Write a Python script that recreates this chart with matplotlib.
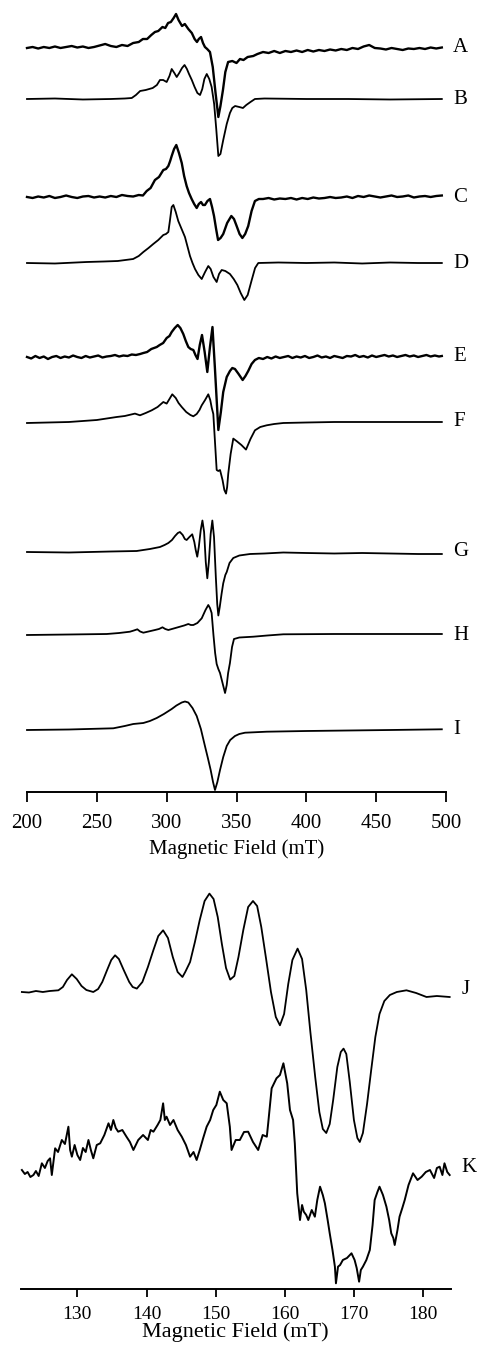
import numpy as np
import matplotlib
matplotlib.use("Agg")
import matplotlib.pyplot as plt

plt.rcParams['font.family'] = ['Liberation Serif', 'DejaVu Serif']

# ---- top panel: field (mT), signal (arbitrary units) ----
A = [(200,0),(204,1),(208,-0.5),(212,1),(216,0),(220,1.5),(224,0),(228,1),(232,2),(236,0.5),(240,1.5),(244,0),
     (248,1),(252,2.5),(256,4),(260,2),(264,1),(268,3),(272,2),(276,5),(280,6),(283,9),(286,9),(289,13),(291.6,16),
     (294,17),(297,21),(299,20),(301,25),(303,26),(305,30),(306.7,34),(308.5,28),(311,22),(313,24),(315.5,19),(318,15),
     (320,9),(321.7,6),(323,9),(324.6,11),(326,5),(327.4,1),(329,-1),(331,-4),(333,-19),(335,-45),(337,-69),(338.5,-58),
     (340.3,-42),(342,-24),(344,-14),(347,-13),(350,-15),(352.5,-11),(355,-12),(358,-9),(362,-8),(365,-6),(369,-4),
     (373,-5),(377,-3),(381,-5),(385,-3),(389,-4),(393,-2.5),(397,-4),(401,-2),(405,-3.5),(409,-2),(413,-3),(417,-1.5),
     (421,-2.5),(425,-1),(429,-2),(433,0),(437,-1),(441,1.5),(445,3),(449,0),(453,-0.5),(457,-1.5),(461,0),(465,-1),
     (469,-2),(473,-0.5),(477,-1),(481,0),(485,-1),(489,0.5),(493,-0.5),(497,0.5)]

B = [(200,0),(220,0.5),(240,-0.5),(260,0),(270,0.5),(275,1),(278,4),(281,8),(285,9),(290,11),(293,14),(295.2,19),
     (297.5,19),(300,17),(302,23),(303.6,30),(305.5,26),(307.2,22),(309,26),(311,31),(312.8,34),(314.5,30),(316,25),
     (318,19),(320,12),(322,6),(323.9,4),(325.5,10),(327,20),(328.7,25),(330.5,20),(332.2,12),(334,-5),(335.5,-30),
     (337,-57),(338.5,-55),(340.5,-41),(343,-25),(345.3,-14),(347,-9),(349,-7),(352,-8),(354.6,-9),(357,-6),(360,-3),
     (363.2,0),(370,0.5),(400,0),(430,0),(460,-0.5),(497,0)]

C = [(200,0),(204,-1),(208,0.5),(212,-0.5),(216,1),(220,-1),(224,0),(228,1.5),(232,0),(236,-1),(240,0.5),(244,1),
     (248,-0.5),(252,0.5),(256,-0.5),(260,1),(264,0),(268,2),(272,1),(276,0.5),(280,2),(283,1.5),(285.7,6),(288.5,9),
     (291.6,17),(294.5,20),(297.6,27),(299.5,28),(301.2,31),(302.5,36),(303.6,41),(305.3,48),(306.9,52),(308.8,44),
     (310.8,34),(312.5,21),(314.3,11),(316,4),(317.9,-2),(319.7,-7),(321.5,-11),(323,-7),(324.6,-5),(326,-8),(327.4,-8),
     (329.2,-4),(331,-2),(332.5,-10),(333.9,-19),(335.4,-32),(336.8,-43),(338.6,-41),(340.5,-37),(343.3,-26),(346.3,-19),
     (348.2,-22),(350.1,-29),(352.2,-37),(354.2,-41),(356.2,-37),(358.4,-29),(360.8,-14),(363.2,-4),(366,-2),(369,-2),
     (373,-1),(377,-2.5),(381,-1.5),(385,-2),(389,-1),(393,-2.5),(397,-1),(401,-2),(405,-0.5),(409,-1.5),(413,-1),
     (417,0),(421,-1),(425,-0.5),(429,0.5),(433,-1),(437,1),(441,0),(445,1.5),(449,0.5),(453,-0.5),(457,0.5),(461,1.5),
     (465,0),(469,0.5),(473,1.5),(477,-0.5),(481,0.5),(485,1),(489,0),(493,1),(497,1.5)]

D = [(200,0),(220,-0.5),(242.7,1),(255,1.5),(265,2),(276,4),(280,7),(283.3,11),(287,15),(290.4,19),(294,23),
     (297.6,28),(299.5,29),(301.2,31),(302.3,42),(303.6,56),(304.8,58),(306.5,51),(308.3,42),(310.7,34),(313.1,26),
     (315,16),(316.7,7),(318.5,0),(320.3,-6),(322.7,-12),(325.1,-16),(327.5,-9),(329.8,-3),(331.5,-6),(333.5,-14),
     (335.8,-19),(337.5,-11),(339.4,-7),(342,-8),(345.3,-11),(348,-16),(350.6,-22),(353,-30),(355.6,-37),(358,-32),
     (360.9,-17),(363.3,-5),(365.6,0),(380,0.5),(400,0),(420,0.5),(440,-0.5),(460,0.5),(480,0),(497,0)]

E = [(200,0),(203,-1.5),(206,1),(209,-1),(212,0.5),(215,-2),(218,0),(221,1),(224,-1),(227,0.5),(230,-0.5),(233,1.5),
     (236,0),(239,-1),(242,1),(245,-0.5),(248,0.5),(251,1.5),(254,-0.5),(257,0.5),(260,1),(263,2),(266,0.5),(269,1.5),
     (272,1),(275,2.5),(278,2),(281,3),(283.3,4),(286,5),(289,8),(292.9,10),(295,12),(297.5,14),(300,19),(302,21),
     (303.6,25),(305.8,29),(307.9,32),(309.8,29),(311.9,23),(313.7,16),(315.5,10),(317.2,8),(319.1,7),(320.6,2),
     (322.1,-2),(323.7,12),(325.3,22),(327.2,5),(329.1,-15),(331,10),(332.8,30),(334.5,-10),(337,-73),(338.8,-55),
     (340.5,-35),(343,-20),(345.3,-14),(347,-11),(348.9,-12),(351.5,-17),(354.4,-23),(356.4,-19),(358.4,-14),
     (360.8,-7),(363.2,-3),(366,-1),(369,-2),(372,0),(375,-1.5),(378,0.5),(381,-1),(384,0),(387,1),(390,-1),(393,0.5),
     (396,-0.5),(399,1),(402,-1),(405,0),(408,1.5),(411,-0.5),(414,0.5),(417,-1),(420,1),(423,0),(426,-1),(429,1),
     (432,0.5),(435,2),(438,0),(441,1),(444,-0.5),(447,1.5),(450,0),(453,1),(456,2),(459,0.5),(462,1.5),(465,0),
     (468,1),(471,2),(474,0.5),(477,1.5),(480,0),(483,1),(486,2),(489,0.5),(492,1.5),(495,0.5),(497,1)]

F = [(200,-1),(230,0),(250,2),(264.2,5),(270,6),(277.3,8.4),(280.9,6.7),(285,9),(289.3,11.7),(293.5,15),(297.6,20),
     (300,18.4),(302,23),(304,27.7),(306.5,24),(308.5,19),(310.8,15),(314,10),(317,7),(319.1,5.7),(321.5,8),
     (323.5,12),(325.1,16.7),(327.5,22),(329.8,27.7),(331.2,22),(332.3,14),(333.4,8),(334.6,-20),(335.8,-48),
     (337,-49),(338.2,-48),(340,-58),(341.3,-68),(342.5,-71.6),(343.3,-65),(344.1,-51.6),(345.8,-32),(347.7,-16.6),
     (350,-19),(353.5,-23),(356.8,-27.6),(360,-17),(363.2,-8.3),(367,-5),(371.6,-3.3),(377,-2),(383.5,-1),(400,-0.5),
     (420,0),(450,0),(497,0)]

G = [(200,0),(230,-0.5),(260,0.5),(278.5,1),(288,3),(295.2,5),(298.5,7),(301.2,9),(303.8,12),(306,16),(308,19),
     (309.5,20),(311.5,17),(313,13),(314.3,12),(316.3,15),(318.3,17.7),(319.8,10),(320.8,2),(321.9,-4.7),(323,5),
     (324.4,22),(325.6,31.5),(326.8,20),(328,-10),(329.1,-26.3),(330.2,-10),(331.5,18),(332.7,31.5),(333.9,15),
     (335.2,-25),(336.2,-52),(337,-63.5),(338,-55),(339.3,-42),(340.5,-31.3),(342,-23),(343,-20),(345,-11),(347.7,-6),
     (352,-3.5),(359.7,-2),(370,-1.5),(383.5,-0.5),(400,-1),(420,-1.5),(440,-1),(460,-1.5),(480,-2),(497,-2)]

H = [(200,0),(230,0.5),(257.1,1),(266,2),(273.7,3.3),(276.5,4.5),(279,5.7),(281,3.5),(283.3,2.3),(287,3.5),
     (291.6,5),(294.5,6),(297,7.7),(299,6),(301.2,5),(305,6.5),(309.5,8.3),(312.5,9.5),(315.5,11),(317.3,10),
     (319.1,10),(322,12),(325.1,16.7),(327.8,25),(329.8,30),(331,27),(332.2,22),(333.5,0),(334.7,-18),(335.8,-29),
     (337,-34),(338.2,-38),(340,-48),(341.8,-58),(343,-50),(344,-38),(345.3,-28),(346.8,-12),(348.2,-4),(352,-2.5),
     (362,-1.7),(372,-0.5),(383.5,0.7),(420,1),(460,1),(497,1)]

I = [(200,0),(230,0.5),(261.8,1.7),(270,4),(276.1,6),(283.3,7),(288,9),(292.9,12),(298,16),(303.6,21),(307,24.5),
     (310.8,27.5),(313.1,28.5),(315.5,27.5),(318.5,22),(321.5,14),(324.5,1),(327.4,-16),(329.5,-28),(331.5,-40),
     (333.2,-52),(334.6,-60),(336.3,-52),(338.2,-40),(340.5,-27),(343,-16),(345.5,-10),(348.9,-6),(352,-4),
     (356.1,-2.7),(371.6,-1.7),(400,-1),(430,-0.5),(460,0),(497,0.7)]

top_traces = [A, B, C, D, E, F, G, H, I]
top_names = ["A", "B", "C", "D", "E", "F", "G", "H", "I"]
top_offsets = [744, 693, 595, 529, 435, 370, 240, 157, 62]
top_noisy = [True, False, True, False, True, False, False, False, False]

# ---- bottom panel ----
J = [(121.97,0),(123,-0.5),(124,1),(125,0),(126,1),(127.25,1.7),(127.9,5),(128.5,12),(129.2,17.7),(129.9,13),
     (130.6,6),(131.3,2),(132.3,0),(133.0,3),(133.6,10),(134.3,22),(134.9,32),(135.45,36.7),(136.0,33),(136.7,22),
     (137.5,10),(138.0,5),(138.6,3.4),(139.4,10),(140.2,25),(141.0,42),(141.7,56),(142.4,61.7),(143.1,54),
     (143.8,35),(144.5,20),(145.2,15),(145.6,20),(146.3,30),(147.0,50),(147.7,72),(148.4,91),(149.1,98.4),
     (149.7,93),(150.3,75),(150.9,48),(151.5,24),(152.1,12.4),(152.7,16),(153.3,35),(154.0,62),(154.7,85),
     (155.4,91),(156.0,86),(156.6,65),(157.3,33),(158.0,0),(158.7,-25),(159.3,-33.3),(159.9,-22),(160.5,8),
     (161.1,32),(161.85,43.4),(162.5,33),(163.1,2),(163.7,-40),(164.4,-85),(165.0,-120),(165.5,-137),(166.0,-141),
     (166.5,-132),(167.0,-108),(167.6,-75),(168.1,-60),(168.5,-56.6),(168.9,-62),(169.4,-90),(170.0,-128),
     (170.5,-146),(170.85,-150),(171.3,-141),(171.9,-112),(172.5,-78),(173.1,-45),(173.7,-22),(174.4,-9),
     (175.2,-3),(176.2,0),(177.6,1.7),(179,-1),(180.5,-5),(182,-4),(183.85,-5)]

K = [(121.97,0),(122.4,-4),(122.8,-2),(123.2,-7),(123.64,-5),(124.0,-1),(124.4,-6),(124.86,6.7),(125.3,2),(125.7,9),
     (126.05,11.7),(126.3,-5),(126.78,21.7),(127.2,18),(127.75,30),(128.2,26),(128.7,43.3),(128.95,20),(129.2,13.3),
     (129.6,25),(130.0,15),(130.4,10),(130.8,22),(131.2,18),(131.6,30),(131.95,20),(132.3,11.7),(132.8,25),
     (133.3,26.7),(133.9,35),(134.5,46.7),(134.85,40),(135.2,50),(135.55,42),(135.9,38.3),(136.5,40),(137.1,33.3),
     (137.6,28),(138.1,20),(138.8,30),(139.5,35),(140.2,30),(140.6,40),(141.0,38.3),(141.6,45),(142.0,50),
     (142.4,66.7),(142.65,50),(142.9,53.3),(143.4,45),(143.9,50),(144.5,40),(145.1,33.3),(145.7,25),(146.3,13.3),
     (146.8,18),(147.25,10),(147.7,20),(148.2,32),(148.7,43.3),(149.2,50),(149.65,60),(150.1,65),(150.6,78.3),
     (151.1,70),(151.6,66.7),(152.05,43.3),(152.3,20),(152.9,30),(153.5,30),(154.1,38),(154.7,38.3),(155.4,28),
     (156.15,20),(156.8,35),(157.4,33.3),(157.6,46.7),(158.1,81.7),(158.8,91.7),(159.3,95),(159.8,106.7),
     (160.35,86.7),(160.75,60),(161.2,50),(161.45,26.7),(161.8,-23.3),(162.2,-50),(162.5,-35),(162.75,-41.7),
     (163.1,-45),(163.4,-50),(163.9,-40),(164.35,-46.7),(164.7,-30),(165.1,-16.7),(165.5,-25),(165.8,-33.3),
     (166.2,-50),(166.5,-63.3),(166.9,-80),(167.25,-96.7),(167.4,-113.3),(167.7,-96.7),(168.0,-95),(168.4,-90),
     (169.0,-88),(169.65,-83.3),(170.1,-90),(170.4,-98),(170.75,-111.7),(171.0,-100),(171.3,-96.7),(171.8,-90),
     (172.3,-80),(172.7,-55),(173.0,-30),(173.4,-22),(173.7,-16.7),(174.2,-25),(174.7,-36.7),(175.1,-50),
     (175.4,-63.3),(175.7,-68),(175.9,-75),(176.3,-60),(176.6,-46.7),(177.0,-38),(177.35,-30),(177.9,-15),
     (178.55,-3.3),(179.2,-10),(179.8,-6.7),(180.4,-2),(181.0,0),(181.6,-8),(182.0,2),(182.4,3.3),(182.8,-5),
     (183.1,6.7),(183.5,-2),(183.85,-5)]

bot_traces = [J, K]
bot_names = ["J", "K"]
bot_offsets = [297, 119]
bot_noisy = [False, True]

top_ticks = [200, 250, 300, 350, 400, 450, 500]
bot_ticks = [130, 140, 150, 160, 170, 180]

W, Hpx = 479, 1345
fig = plt.figure(figsize=(W / 100, Hpx / 100), dpi=100)
ax1 = fig.add_axes([27 / W, 553 / Hpx, 419 / W, 787 / Hpx])
ax2 = fig.add_axes([20.7 / W, 56 / Hpx, 430 / W, 409 / Hpx])


def style(ax, ticks, fs, tlen, pad):
    for s in ["top", "left", "right"]:
        ax.spines[s].set_visible(False)
    ax.spines["bottom"].set_linewidth(1.4)
    ax.set_yticks([])
    ax.set_xticks(ticks)
    ax.tick_params(axis="x", direction="out", length=tlen, width=1.3, labelsize=fs, pad=pad)


for tr, name, off, noisy in zip(top_traces, top_names, top_offsets, top_noisy):
    x, y = np.array(tr).T
    ax1.plot(x, y + off, color="black", lw=1.7 if noisy else 1.3, clip_on=False)
    ax1.text(505, off, name, fontsize=15, va="center", ha="left")
ax1.set_xlim(200, 500)
ax1.set_ylim(0, 787)
style(ax1, top_ticks, 15, 7, 8.5)
ax1.set_xlabel("Magnetic Field (mT)", fontsize=15, labelpad=5)

for tr, name, off, noisy in zip(bot_traces, bot_names, bot_offsets, bot_noisy):
    x, y = np.array(tr).T
    ax2.plot(x, y + off, color="black", lw=1.4 if noisy else 1.3, clip_on=False)
    ax2.text(185.6, off + 2, name, fontsize=15, va="center", ha="left")
ax2.set_xlim(121.8, 184)
ax2.set_ylim(0, 409)
style(ax2, bot_ticks, 14, 6, 6)
ax2.set_xlabel("Magnetic Field (mT)", fontsize=16, labelpad=0)

fig.savefig("out.png", dpi=100)
